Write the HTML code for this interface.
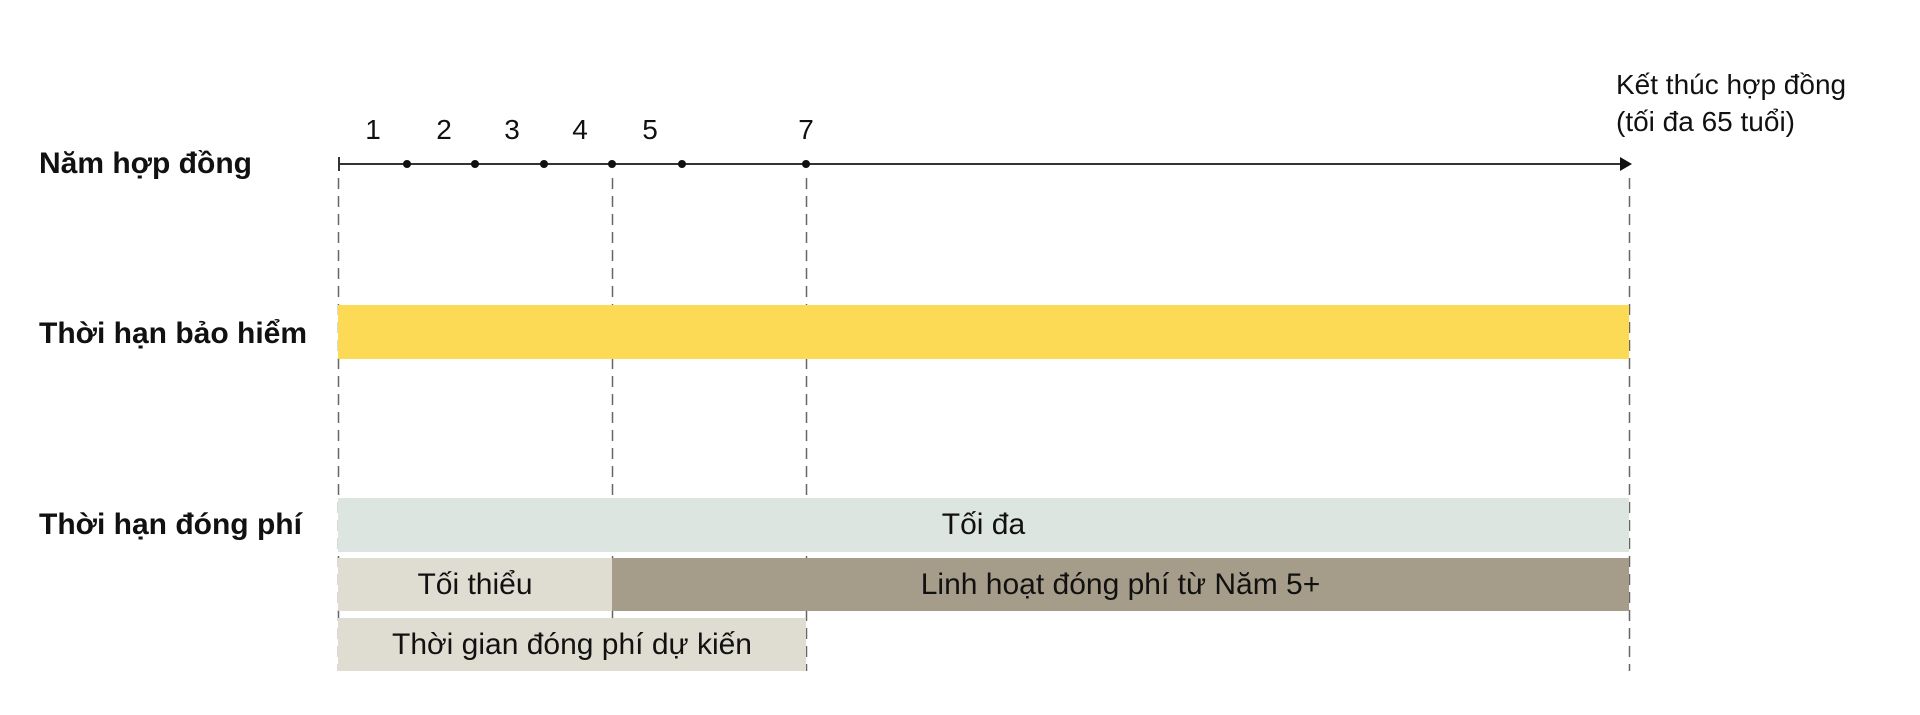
<!DOCTYPE html>
<html><head><meta charset="utf-8"><style>
body{margin:0;width:1920px;height:715px;background:#fff;position:relative;overflow:hidden;font-family:"Liberation Sans","DejaVu Sans",sans-serif;color:#111}
.a{position:absolute}
.lbl{position:absolute;left:39px;font-weight:bold;font-size:30px;transform:translateY(-50%);white-space:nowrap}
.num{position:absolute;top:130px;font-size:28px;transform:translate(-50%,-50%)}
.box{position:absolute;display:flex;align-items:center;justify-content:center;font-size:30px;white-space:nowrap}
.dot{position:absolute;top:160px;width:8px;height:8px;border-radius:50%;background:#111;transform:translateX(-50%)}
</style></head><body>
<svg class="a" style="left:0;top:0" width="1920" height="715">
<g stroke="#666" stroke-width="1.5" stroke-dasharray="11,7">
<line x1="338.5" y1="178" x2="338.5" y2="671"/>
<line x1="612.5" y1="178" x2="612.5" y2="671"/>
<line x1="806.5" y1="178" x2="806.5" y2="671"/>
<line x1="1629.5" y1="178" x2="1629.5" y2="671"/>
</g></svg>

<div class="box" style="left:338px;top:305px;width:1291px;height:54px;background:#FCDA55"></div>
<div class="box" style="left:338px;top:498px;width:1291px;height:54px;background:#DDE5E0">Tối đa</div>
<div class="box" style="left:338px;top:558px;width:274px;height:53px;background:#DFDCD1">Tối thiểu</div>
<div class="box" style="left:612px;top:558px;width:1017px;height:53px;background:#A59D8A">Linh hoạt đóng phí từ Năm 5+</div>
<div class="box" style="left:338px;top:618px;width:468px;height:53px;background:#DFDCD1">Thời gian đóng phí dự kiến</div>

<div class="a" style="left:338px;top:163px;width:1288px;height:2px;background:#333"></div>
<div class="a" style="left:338px;top:157px;width:2px;height:14px;background:#333"></div>
<svg class="a" style="left:1620px;top:157px" width="16" height="14"><polygon points="0,0 12,7 0,14" fill="#111"/></svg>
<div class="dot" style="left:407px"></div>
<div class="dot" style="left:475px"></div>
<div class="dot" style="left:544px"></div>
<div class="dot" style="left:612px"></div>
<div class="dot" style="left:682px"></div>
<div class="dot" style="left:806px"></div>

<div class="num" style="left:373px">1</div>
<div class="num" style="left:444px">2</div>
<div class="num" style="left:512px">3</div>
<div class="num" style="left:580px">4</div>
<div class="num" style="left:650px">5</div>
<div class="num" style="left:806px">7</div>

<div class="lbl" style="top:164px">Năm hợp đồng</div>
<div class="lbl" style="top:334px">Thời hạn bảo hiểm</div>
<div class="lbl" style="top:525px">Thời hạn đóng phí</div>

<div class="a" style="left:1616px;top:66px;font-size:28px;line-height:37px">Kết thúc hợp đồng<br>(tối đa 65 tuổi)</div>
</body></html>
